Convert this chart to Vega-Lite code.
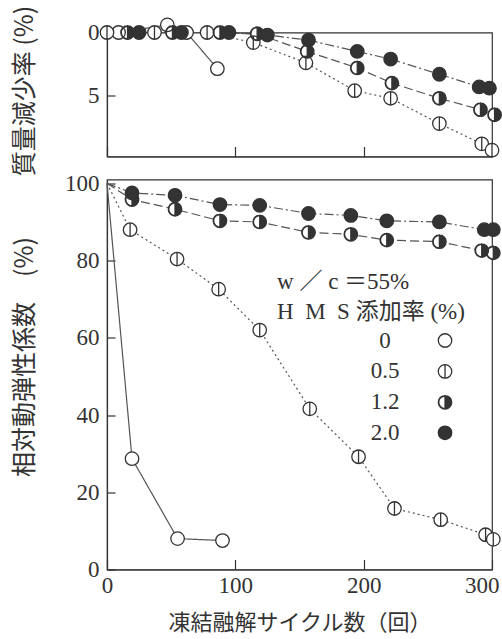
{
  "$schema": "https://vega.github.io/schema/vega-lite/v6.json",
  "background": "white",
  "padding": {"left": 11, "top": 4.5, "right": 0, "bottom": 0},
  "spacing": 23,
  "bounds": "flush",
  "datasets": {
    "mass": [
      {"c": 9, "v": 0, "s": "0"}, {"c": 47, "v": -0.6, "s": "0"}, {"c": 62, "v": 0, "s": "0"}, {"c": 86, "v": 2.86, "s": "0"},
      {"c": 0, "v": 0, "s": "0.5"}, {"c": 37, "v": 0, "s": "0.5"}, {"c": 78, "v": 0, "s": "0.5"}, {"c": 114, "v": 0.8, "s": "0.5"}, {"c": 155, "v": 2.4, "s": "0.5"}, {"c": 193, "v": 4.6, "s": "0.5"}, {"c": 221, "v": 5.2, "s": "0.5"}, {"c": 259, "v": 7.2, "s": "0.5"}, {"c": 292, "v": 8.8, "s": "0.5"}, {"c": 300, "v": 9.3, "s": "0.5"},
      {"c": 16, "v": 0, "s": "1.2"}, {"c": 51, "v": 0, "s": "1.2"}, {"c": 88, "v": 0, "s": "1.2"}, {"c": 117, "v": 0.1, "s": "1.2"}, {"c": 156, "v": 1.5, "s": "1.2"}, {"c": 195, "v": 2.8, "s": "1.2"}, {"c": 222, "v": 4.0, "s": "1.2"}, {"c": 259, "v": 5.2, "s": "1.2"}, {"c": 291, "v": 6.1, "s": "1.2"}, {"c": 302, "v": 6.5, "s": "1.2"},
      {"c": 25, "v": 0, "s": "2.0"}, {"c": 58, "v": 0, "s": "2.0"}, {"c": 95, "v": 0, "s": "2.0"}, {"c": 125, "v": 0.2, "s": "2.0"}, {"c": 157, "v": 0.6, "s": "2.0"}, {"c": 195, "v": 1.5, "s": "2.0"}, {"c": 221, "v": 2.1, "s": "2.0"}, {"c": 259, "v": 3.3, "s": "2.0"}, {"c": 290, "v": 4.3, "s": "2.0"}, {"c": 298, "v": 4.4, "s": "2.0"}
    ],
    "rdm": [
      {"c": 0, "v": 100, "s": "0"}, {"c": 19.5, "v": 28.7, "s": "0"}, {"c": 55, "v": 8, "s": "0"}, {"c": 90, "v": 7.5, "s": "0"},
      {"c": 0, "v": 100, "s": "0.5"}, {"c": 18, "v": 88, "s": "0.5"}, {"c": 54.6, "v": 80.4, "s": "0.5"}, {"c": 87, "v": 72.6, "s": "0.5"}, {"c": 119, "v": 62, "s": "0.5"}, {"c": 158, "v": 41.6, "s": "0.5"}, {"c": 196, "v": 29.2, "s": "0.5"}, {"c": 224, "v": 15.8, "s": "0.5"}, {"c": 260, "v": 12.9, "s": "0.5"}, {"c": 295, "v": 9, "s": "0.5"}, {"c": 301, "v": 7.8, "s": "0.5"},
      {"c": 0, "v": 100, "s": "1.2"}, {"c": 19.5, "v": 95.8, "s": "1.2"}, {"c": 53, "v": 93.3, "s": "1.2"}, {"c": 88, "v": 90.3, "s": "1.2"}, {"c": 119, "v": 90, "s": "1.2"}, {"c": 157, "v": 87.3, "s": "1.2"}, {"c": 190, "v": 86.8, "s": "1.2"}, {"c": 218, "v": 85.3, "s": "1.2"}, {"c": 259, "v": 84.9, "s": "1.2"}, {"c": 292, "v": 82.6, "s": "1.2"}, {"c": 301, "v": 82, "s": "1.2"},
      {"c": 0, "v": 100, "s": "2.0"}, {"c": 19.5, "v": 97.5, "s": "2.0"}, {"c": 53, "v": 96.9, "s": "2.0"}, {"c": 88, "v": 94.5, "s": "2.0"}, {"c": 119, "v": 94.3, "s": "2.0"}, {"c": 157, "v": 92.2, "s": "2.0"}, {"c": 190, "v": 91.7, "s": "2.0"}, {"c": 218, "v": 90.3, "s": "2.0"}, {"c": 259, "v": 90, "s": "2.0"}, {"c": 294, "v": 88, "s": "2.0"}, {"c": 301, "v": 88, "s": "2.0"}
    ],
    "key": [
      {"s": "0", "t": "0", "c": 263.4, "v": 59.3},
      {"s": "0.5", "t": "0.5", "c": 263.4, "v": 51.3},
      {"s": "1.2", "t": "1.2", "c": 263.4, "v": 43.3},
      {"s": "2.0", "t": "2.0", "c": 263.4, "v": 35.4}
    ],
    "head": [
      {"t": "w ／ c ＝55%", "c": 132.5, "v": 74.5},
      {"t": "H\u00a0\u00a0M\u00a0\u00a0S 添加率 (%)", "c": 132.5, "v": 66.7}
    ]
  },
  "config": {
    "view": {"stroke": "#333", "strokeWidth": 1.2},
    "axis": {
      "grid": false,
      "domainColor": "#333", "domainWidth": 1.2,
      "tickColor": "#333", "tickWidth": 1.2,
      "labelColor": "#333", "labelFont": "Liberation Serif", "labelFontSize": 23,
      "titleColor": "#333", "titleFont": "Noto Sans CJK JP", "titleFontSize": 25, "titleFontWeight": "normal"
    }
  },
  "resolve": {
    "scale": {"shape": "independent", "fill": "independent", "strokeDash": "independent"}
  },
  "vconcat": [
    {
      "width": 385,
      "height": 124,
      "data": {"name": "mass"},
      "encoding": {
        "x": {"field": "c", "type": "quantitative", "scale": {"domain": [0, 300], "nice": false},
              "axis": {"title": null, "labels": false, "values": [0, 100, 200, 300], "tickSize": -10}},
        "y": {"field": "v", "type": "quantitative", "scale": {"domain": [0, 9.8], "reverse": true, "nice": false, "zero": false},
              "axis": {"values": [0, 5], "tickSize": -8, "labelPadding": 16, "title": "質量減少率 (%)",
                       "titleX": -83, "titleY": 58, "titleAngle": -90, "titleAlign": "center", "titleBaseline": "middle"}}
      },
      "layer": [
        {
          "mark": {"type": "line", "color": "#555", "strokeWidth": 1.2},
          "encoding": {
            "strokeDash": {"field": "s", "type": "nominal", "legend": null,
                           "scale": {"domain": ["0", "0.5", "1.2", "2.0"], "range": [[1, 0], [2, 3], [9, 4], [9, 3, 2, 3]]}}
          }
        },
        {
          "mark": {"type": "point", "shape": "circle", "filled": true, "color": "white", "opacity": 1, "size": 140},
          "encoding": {}
        },
        {
          "mark": {"type": "point", "stroke": "#333", "strokeWidth": 1.3, "opacity": 1, "size": 182},
          "encoding": {
            "shape": {"field": "s", "type": "nominal", "legend": null,
                      "scale": {"domain": ["0", "0.5", "1.2", "2.0"],
                                "range": ["M-1,0A1,1 0 1,1 1,0A1,1 0 1,1 -1,0Z",
                                          "M-1,0A1,1 0 1,1 1,0A1,1 0 1,1 -1,0ZM0,-1L0,1",
                                          "M0,-1A1,1 0 0,1 0,1ZM0,1A1,1 0 0,1 0,-1L0,-0.93A0.93,0.93 0 0,0 0,0.93Z",
                                          "M-1,0A1,1 0 1,1 1,0A1,1 0 1,1 -1,0Z"]}},
            "fill": {"field": "s", "type": "nominal", "legend": null,
                     "scale": {"domain": ["0", "0.5", "1.2", "2.0"], "range": ["white", "white", "#333", "#333"]}}
          }
        }
      ]
    },
    {
      "width": 385,
      "height": 390,
      "encoding": {
        "x": {"field": "c", "type": "quantitative", "scale": {"domain": [0, 300], "nice": false},
              "axis": {"title": "凍結融解サイクル数（回）", "titleFontSize": 22, "titleY": 53, "titleBaseline": "middle",
                       "values": [0, 100, 200, 300], "tickSize": -10, "labelPadding": 15,
                       "labelAlign": {"condition": {"test": "datum.value === 300", "value": "right"}, "value": "center"},
                       "labelOffset": {"condition": {"test": "datum.value === 300", "value": 7}, "value": 0}}},
        "y": {"field": "v", "type": "quantitative", "scale": {"domain": [0, 101], "nice": false, "zero": false},
              "axis": {"values": [0, 20, 40, 60, 80, 100], "tickSize": -8, "labelPadding": 16, "title": "相対動弾性係数　(%)",
                       "titleX": -83, "titleY": 177, "titleAngle": -90, "titleAlign": "center", "titleBaseline": "middle"}}
      },
      "layer": [
        {
          "data": {"name": "rdm"},
          "mark": {"type": "line", "color": "#555", "strokeWidth": 1.2},
          "encoding": {
            "strokeDash": {"field": "s", "type": "nominal", "legend": null,
                           "scale": {"domain": ["0", "0.5", "1.2", "2.0"], "range": [[1, 0], [2, 3], [9, 4], [9, 3, 2, 3]]}}
          }
        },
        {
          "data": {"name": "rdm"},
          "transform": [{"filter": "datum.c > 0"}],
          "mark": {"type": "point", "shape": "circle", "filled": true, "color": "white", "opacity": 1, "size": 140},
          "encoding": {}
        },
        {
          "data": {"name": "rdm"},
          "transform": [{"filter": "datum.c > 0"}],
          "mark": {"type": "point", "stroke": "#333", "strokeWidth": 1.3, "opacity": 1, "size": 182},
          "encoding": {
            "shape": {"field": "s", "type": "nominal", "legend": null,
                      "scale": {"domain": ["0", "0.5", "1.2", "2.0"],
                                "range": ["M-1,0A1,1 0 1,1 1,0A1,1 0 1,1 -1,0Z",
                                          "M-1,0A1,1 0 1,1 1,0A1,1 0 1,1 -1,0ZM0,-1L0,1",
                                          "M0,-1A1,1 0 0,1 0,1ZM0,1A1,1 0 0,1 0,-1L0,-0.93A0.93,0.93 0 0,0 0,0.93Z",
                                          "M-1,0A1,1 0 1,1 1,0A1,1 0 1,1 -1,0Z"]}},
            "fill": {"field": "s", "type": "nominal", "legend": null,
                     "scale": {"domain": ["0", "0.5", "1.2", "2.0"], "range": ["white", "white", "#333", "#333"]}}
          }
        },
        {
          "data": {"name": "head"},
          "mark": {"type": "text", "align": "left", "baseline": "middle", "font": "Liberation Serif, Noto Sans CJK JP", "fontSize": 23, "fill": "#333"},
          "encoding": {"text": {"field": "t", "type": "nominal"}}
        },
        {
          "data": {"name": "key"},
          "mark": {"type": "text", "align": "center", "baseline": "middle", "dx": -60, "font": "Liberation Serif", "fontSize": 23, "fill": "#333"},
          "encoding": {"text": {"field": "t", "type": "nominal"}}
        },
        {
          "data": {"name": "key"},
          "mark": {"type": "point", "stroke": "#333", "strokeWidth": 1.3, "opacity": 1, "size": 182},
          "encoding": {"shape": {"field": "s", "type": "nominal", "legend": null}, "fill": {"field": "s", "type": "nominal", "legend": null}}
        }
      ]
    }
  ]
}
